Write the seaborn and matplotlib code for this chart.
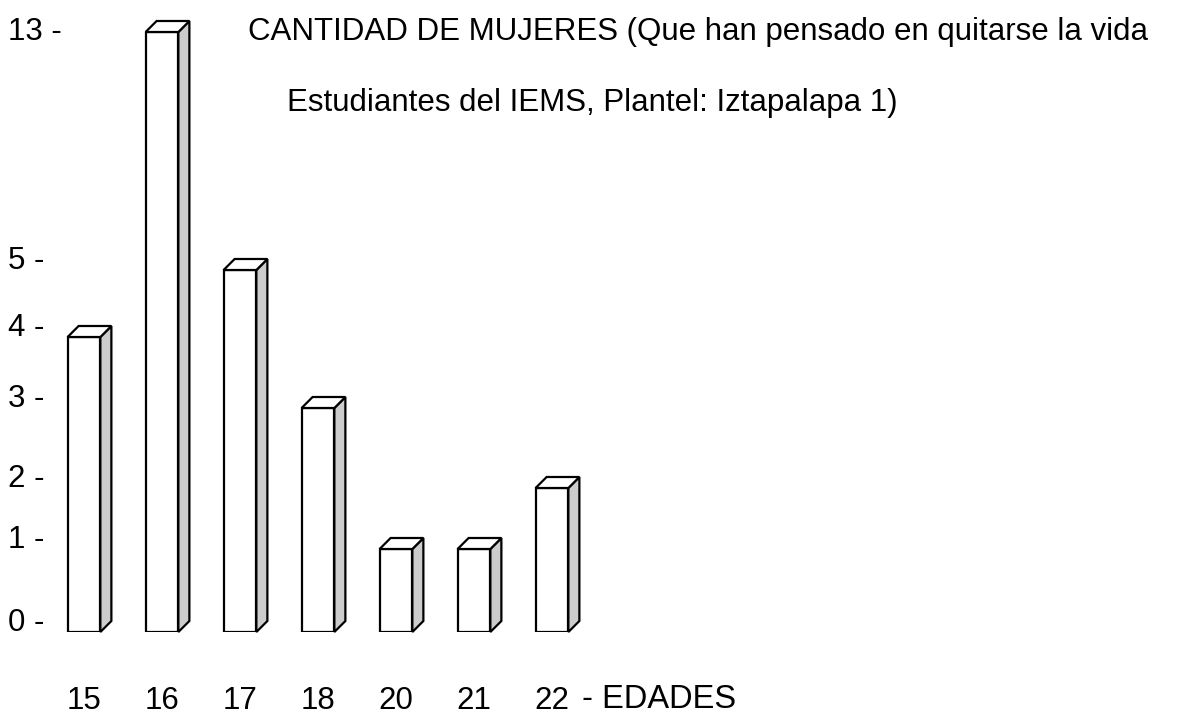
import numpy as np
import matplotlib
matplotlib.use('Agg')
import matplotlib.pyplot as plt
from matplotlib.patches import Polygon
from matplotlib.transforms import IdentityTransform, ScaledTranslation
import seaborn as sns

# data
ages = ['15', '16', '17', '18', '20', '21', '22']
counts = [4, 13, 5, 3, 1, 1, 2]
ytick_vals = [0, 1, 2, 3, 4, 5, 13]

# the hand drawn y axis is not linear: pixel height above the base for each tick value
tick_px = [0, 83, 144, 224, 295, 362, 600]

W, H = 1181, 717

sns.set_style('white')
plt.rcParams['font.family'] = ['Liberation Sans', 'DejaVu Sans']
plt.rcParams['text.color'] = 'black'
plt.rcParams['xtick.color'] = 'black'
plt.rcParams['ytick.color'] = 'black'

def fwd(v):
    return np.interp(v, ytick_vals, tick_px)

def inv(p):
    return np.interp(p, tick_px, ytick_vals)

fig = plt.figure(figsize=(W / 100, H / 100), dpi=100)
ax = fig.add_axes([45 / W, 85 / H, 546 / W, 600 / H])

sns.barplot(x=ages, y=counts, color='white', edgecolor='black',
            linewidth=1.6, width=0.42, saturation=1, ax=ax, zorder=3)

ax.set_yscale('function', functions=(fwd, inv))
ax.set_ylim(0, 13)
ax.set_xlim(-0.5, 6.5)
sns.despine(ax=ax, left=True, bottom=True)
ax.set_xlabel('')
ax.set_ylabel('')

fs = 22.5
ax.set_yticks(ytick_vals, labels=[f'{v} -' for v in ytick_vals])
ax.yaxis.set_minor_locator(matplotlib.ticker.NullLocator())
ax.tick_params(axis='y', length=0, pad=37 * 0.72, labelsize=fs)
lift = ScaledTranslation(0, 9 / 100, fig.dpi_scale_trans)
for v, lbl in zip(ytick_vals, ax.get_yticklabels()):
    lbl.set_ha('left')
    lbl.set_va('center')
    if v != 13:
        lbl.set_transform(lbl.get_transform() + lift)
ax.tick_params(axis='x', length=0, pad=39, labelsize=fs)

fig.text(582 / W, 1 - 700 / H, '- EDADES', fontsize=23.5, va='center', ha='left')

fig.text(248 / W, 1 - 32 / H, 'CANTIDAD DE MUJERES (Que han pensado en quitarse la vida',
         fontsize=fs, va='center', ha='left')
fig.text(287 / W, 1 - 103 / H, 'Estudiantes del IEMS, Plantel: Iztapalapa 1)',
         fontsize=fs, va='center', ha='left')

# 3D look: grey side face and white top face behind each bar
d = 11
for p in list(ax.patches):
    x0, x1 = p.get_x(), p.get_x() + p.get_width()
    (xl, yb), (xr, yt) = ax.transData.transform([(x0, 0), (x1, p.get_height())])
    side = Polygon([(xr, yb), (xr, yt), (xr + d, yt + d), (xr + d, yb + d)],
                   closed=True, facecolor='#cccccc', edgecolor='black',
                   linewidth=1.6, transform=IdentityTransform(), zorder=2)
    top = Polygon([(xl, yt), (xl + d, yt + d), (xr + d, yt + d), (xr, yt)],
                  closed=True, facecolor='white', edgecolor='black',
                  linewidth=1.6, transform=IdentityTransform(), zorder=2)
    fig.add_artist(side)
    fig.add_artist(top)

fig.savefig('out.png', dpi=100)
